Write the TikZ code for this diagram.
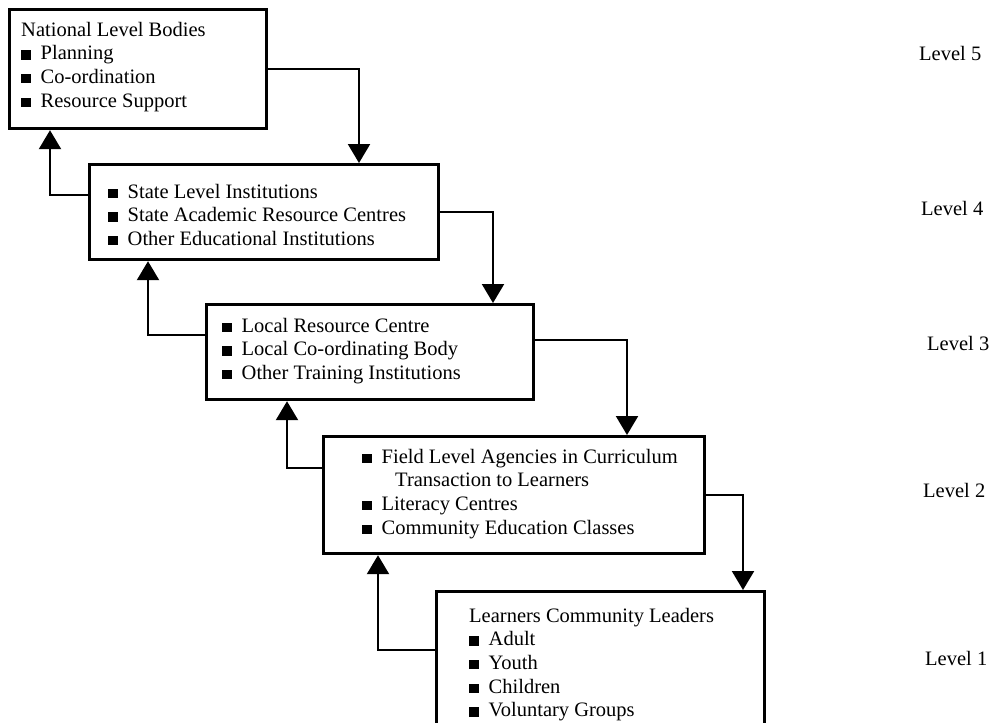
\documentclass[tikz,border=0pt]{standalone}
\usepackage{fontspec}
\setmainfont{Liberation Serif}
\usetikzlibrary{arrows.meta,calc}
% square bullet followed by the gap before the item text
\newcommand\sqb{\rule{9.5pt}{9.5pt}\hspace{10pt}}
\newcommand\itemlist[1]{\begin{tabular}[t]{@{}l@{}}#1\end{tabular}}
\begin{document}
\begin{tikzpicture}[x=1pt,y=-1pt,
  box/.style={draw, line width=3.2pt, rectangle, inner sep=0pt, anchor=north west},
  conn/.style={line width=2.2pt, -{Triangle[width=22pt,length=19pt]}},
  txt/.style={anchor=base west, inner sep=0pt, font=\fontsize{20.5}{23.7}\selectfont},
  lvl/.style={txt}]
\useasboundingbox (0,0) rectangle (1007,723);
\clip (0,0) rectangle (1007,723);

% boxes, one per level
\node[box, minimum width=257pt, minimum height=119pt] (b5) at (8,8) {};
\node[box, minimum width=349pt, minimum height=95pt]  (b4) at (88,163) {};
\node[box, minimum width=327pt, minimum height=95pt]  (b3) at (205,303) {};
\node[box, minimum width=381pt, minimum height=117pt] (b2) at (322,435) {};
\node[box, minimum width=328pt, minimum height=160pt] (b1) at (435,590) {};

% box contents
\node[txt] (t5) at ($(b5.north west)+(13,28)$) {\itemlist{%
  National Level Bodies\\
  \sqb Planning\\
  \sqb Co-ordination\\
  \sqb Resource Support}};
\node[txt] (t4) at ($(b4.north west)+(20,35)$) {\itemlist{%
  \sqb State Level Institutions\\
  \sqb State Academic Resource Centres\\
  \sqb Other Educational Institutions}};
\node[txt] (t3) at ($(b3.north west)+(17,29)$) {\itemlist{%
  \sqb Local Resource Centre\\
  \sqb Local Co-ordinating Body\\
  \sqb Other Training Institutions}};
\node[txt] (t2) at ($(b2.north west)+(40,28)$) {\itemlist{%
  \sqb Field Level Agencies in Curriculum\\
  \hspace{33pt}Transaction to Learners\\
  \sqb Literacy Centres\\
  \sqb Community Education Classes}};
\node[txt] (t1) at ($(b1.north west)+(34,32)$) {\itemlist{%
  Learners Community Leaders\\
  \sqb Adult\\
  \sqb Youth\\
  \sqb Children\\
  \sqb Voluntary Groups}};

% level labels
\node[lvl] (l5) at (919,60)  {Level 5};
\node[lvl] (l4) at (921,215) {Level 4};
\node[lvl] (l3) at (927,350) {Level 3};
\node[lvl] (l2) at (923,497) {Level 2};
\node[lvl] (l1) at (925,665) {Level 1};

% downward links
\draw[conn] (b5.east) -| ($(b4.north west)+(271,0)$);
\draw[conn] (b4.east) -| ($(b3.north west)+(288,0)$);
\draw[conn] ($(b3.north east)+(0,37)$) -| ($(b2.north west)+(305,0)$);
\draw[conn] (b2.east) -| ($(b1.north west)+(308,0)$);

% upward links
\draw[conn] ($(b4.north west)+(0,32)$) -| ($(b5.south west)+(42,0)$);
\draw[conn] ($(b3.north west)+(0,32)$) -| ($(b4.south west)+(60,0)$);
\draw[conn] ($(b2.north west)+(0,33)$) -| ($(b3.south west)+(82,0)$);
\draw[conn] ($(b1.north west)+(0,60)$) -| ($(b2.south west)+(56,0)$);
\end{tikzpicture}
\end{document}
